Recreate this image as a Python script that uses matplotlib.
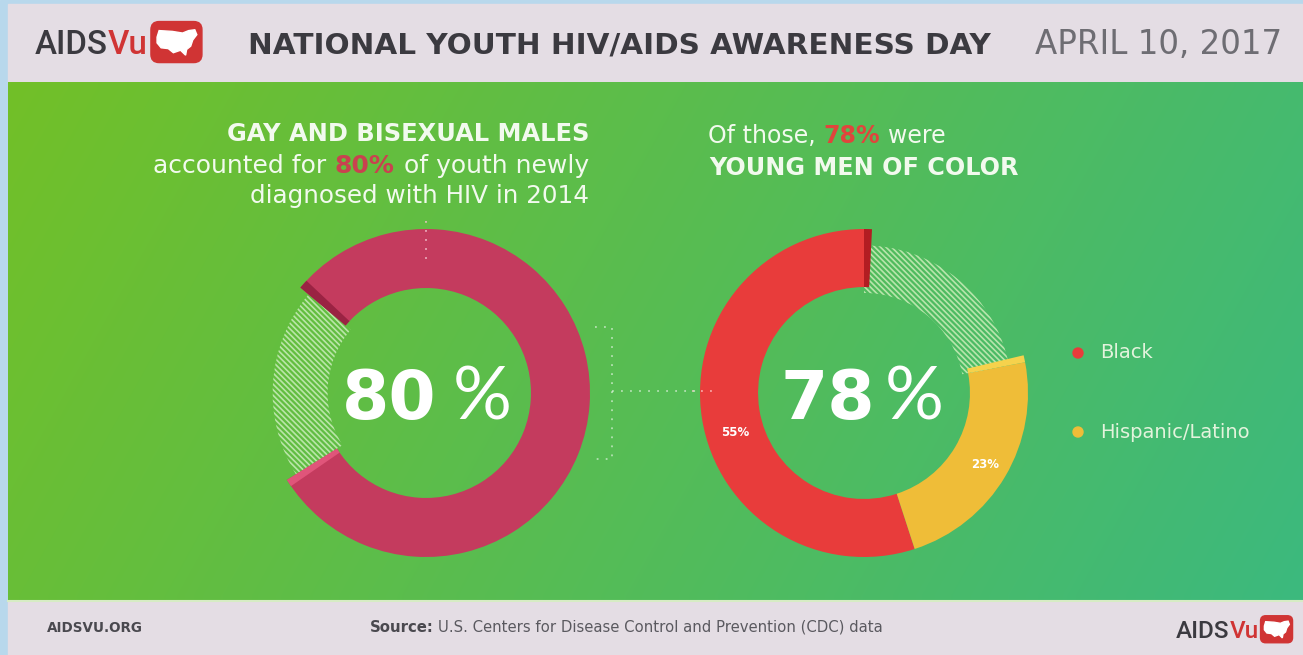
import numpy as np
import matplotlib
matplotlib.use("Agg")
import matplotlib.pyplot as plt
from matplotlib.patches import Rectangle, FancyBboxPatch, Circle, Wedge, Polygon

# ---------------- data ----------------
left_values = [80, 20]                 # gay & bisexual males vs other
left_center_label = ["80", "%"]
right_values = [55, 23, 22]            # Black, Hispanic/Latino, other
right_center_label = ["78", "%"]
right_segment_labels = ["55%", "23%"]
legend_labels = ["Black", "Hispanic/Latino"]
title_text = "NATIONAL YOUTH HIV/AIDS AWARENESS DAY"
date_text = "APRIL 10, 2017"
left_heading = "GAY AND BISEXUAL MALES"
left_line2 = ["accounted for", "80%", "of youth newly"]
left_line3 = "diagnosed with HIV in 2014"
right_line1 = ["Of those,", "78%", "were"]
right_heading = "YOUNG MEN OF COLOR"
footer_site = "AIDSVU.ORG"
footer_source = ["Source:", "U.S. Centers for Disease Control and Prevention (CDC) data"]

# ---------------- style ----------------
W, H, DPI = 1303, 655, 100
BORDER = "#b8d8ec"
BAND = "#e4dde4"
G0 = np.array([0x72, 0xc0, 0x28]) / 255
G1 = np.array([0x3c, 0xb9, 0x7e]) / 255
CRIMSON = "#c43b5e"
RED = "#e83c3b"
YELLOW = "#efbd38"
HATCH = "#c4eab4"
WHITE = "#f2faee"
DARK = "#3b3a40"
LOGO_RED = "#d03434"
plt.rcParams["hatch.linewidth"] = 1.2

fig = plt.figure(figsize=(W / DPI, H / DPI), dpi=DPI)
ax = fig.add_axes([0, 0, 1, 1])
R_ = fig.canvas.get_renderer()

# background panels
ax.add_patch(Rectangle((0, 0), W, H, color=BORDER, zorder=0))
ax.add_patch(Rectangle((8, 4), W - 8, 78, color=BAND, zorder=1))
ax.add_patch(Rectangle((8, 600), W - 8, 55, color=BAND, zorder=1))
ny, nx = 60, 240
yy, xx = np.mgrid[0:ny, 0:nx]
t = 0.82 * xx / (nx - 1) + 0.18 * yy / (ny - 1)
img = G0[None, None, :] * (1 - t[..., None]) + G1[None, None, :] * t[..., None]
ax.imshow(img, extent=(8, W, 600, 82), zorder=1, aspect="auto", interpolation="bilinear")
ax.add_line(plt.Line2D([8, W], [600.5, 600.5], color="#d6ecc4", lw=1.5, zorder=2))
ax.set_xlim(0, W)
ax.set_ylim(H, 0)
ax.axis("off")


def fit(arts, target):
    bbs = [a.get_window_extent(R_) for a in arts]
    w = max(b.x1 for b in bbs) - min(b.x0 for b in bbs)
    s = target / w
    for a in arts:
        a.set_fontsize(a.get_fontsize() * s)


def chain(pieces, x, y, ha, fs, gap, family="DejaVu Sans"):
    """pieces: list of (text, color, weight). y is baseline."""
    arts = []
    if ha == "left":
        txt, c, w = pieces[0]
        prev = ax.text(x, y, txt, color=c, fontweight=w, fontsize=fs, ha="left",
                       va="baseline", family=family, zorder=5)
        arts.append(prev)
        for txt, c, w in pieces[1:]:
            a = ax.annotate(txt, xy=(1, 0), xycoords=prev, xytext=(gap, 0),
                            textcoords="offset pixels", ha="left", va="bottom",
                            color=c, fontweight=w, fontsize=fs, family=family, zorder=5)
            arts.append(a)
            prev = a
    else:
        txt, c, w = pieces[-1]
        prev = ax.text(x, y, txt, color=c, fontweight=w, fontsize=fs, ha="right",
                       va="baseline", family=family, zorder=5)
        arts.append(prev)
        for txt, c, w in reversed(pieces[:-1]):
            a = ax.annotate(txt, xy=(0, 0), xycoords=prev, xytext=(-gap, 0),
                            textcoords="offset pixels", ha="right", va="bottom",
                            color=c, fontweight=w, fontsize=fs, family=family, zorder=5)
            arts.append(a)
            prev = a
    return arts


def logo(x, y, fs, icon_w, icon_h, width):
    arts = chain([("AIDS", DARK, "medium"), ("Vu", LOGO_RED, "medium")], x, y, "left",
                 fs, 0, family="Roboto")
    fit(arts, width)
    bb = arts[-1].get_window_extent(R_)
    x_icon = bb.x1 + 0.06 * icon_w
    yc = y - 0.36 * arts[0].get_fontsize() * DPI / 72
    ax.add_patch(FancyBboxPatch((x_icon, yc - icon_h / 2), icon_w, icon_h,
                                boxstyle="round,pad=0,rounding_size=%f" % (icon_w * 0.16),
                                color=LOGO_RED, zorder=5))
    us = [(0.12, 0.62), (0.16, 0.78), (0.42, 0.76), (0.62, 0.72), (0.74, 0.78), (0.86, 0.80),
          (0.90, 0.68), (0.82, 0.55), (0.78, 0.40), (0.70, 0.32), (0.68, 0.18), (0.58, 0.30),
          (0.44, 0.24), (0.34, 0.34), (0.20, 0.36), (0.12, 0.48)]
    pts = [(x_icon + u * icon_w, yc + icon_h / 2 - v * icon_h) for u, v in us]
    ax.add_patch(Polygon(pts, closed=True, color="white", zorder=6))


# ---------------- header ----------------
logo(35, 54, 20, 51, 41, 113)
tt = ax.text(248, 54, title_text, color=DARK, fontweight="bold", fontsize=17,
             ha="left", va="baseline", family="DejaVu Sans", zorder=5)
fit([tt], 742)
dt = ax.text(1035, 54, date_text, color="#6e6d73", fontweight="normal", fontsize=17,
             ha="left", va="baseline", family="DejaVu Sans", zorder=5)
fit([dt], 247)

# ---------------- left text block ----------------
a = ax.text(589, 141, left_heading, color=WHITE, fontweight="bold", fontsize=13,
            ha="right", va="baseline", family="DejaVu Sans", zorder=5)
fit([a], 360)
arts = chain([(left_line2[0], WHITE, "normal"), (left_line2[1], "#c9424f", "bold"),
              (left_line2[2], WHITE, "normal")], 589, 173, "right", 14, 9)
fit(arts, 443)
a = ax.text(589, 203, left_line3, color=WHITE, fontweight="normal", fontsize=14,
            ha="right", va="baseline", family="DejaVu Sans", zorder=5)
fit([a], 340)

# ---------------- right text block ----------------
arts = chain([(right_line1[0], WHITE, "normal"), (right_line1[1], "#e0453c", "bold"),
              (right_line1[2], WHITE, "normal")], 708, 143, "left", 14, 8)
fit(arts, 242)
a = ax.text(709, 175, right_heading, color=WHITE, fontweight="bold", fontsize=13,
            ha="left", va="baseline", family="DejaVu Sans", zorder=5)
fit([a], 306)

# ---------------- legend ----------------
for (lab, col, yv) in zip(legend_labels, [RED, YELLOW], [353, 432]):
    ax.add_patch(Circle((1078, yv), 5, color=col, zorder=5))
    ax.text(1100, yv, lab, color="#e3f3dc", fontsize=14, ha="left", va="center",
            family="DejaVu Sans", zorder=5)

# ---------------- dotted connectors ----------------
dk = dict(color="white", lw=1.3, ls=(0, (1, 4)), alpha=0.55, zorder=4)
ax.plot([595, 612, 612, 595], [327, 327, 459, 459], **dk)
ax.plot([612, 720], [391, 391], **dk)

# ---------------- footer ----------------
a = ax.text(47, 632, footer_site, color="#4a494f", fontweight="bold", fontsize=7.5,
            ha="left", va="baseline", family="DejaVu Sans", zorder=5)
fit([a], 96)
arts = chain([(footer_source[0], "#4a494f", "bold"), (footer_source[1], "#5a595f", "normal")],
             370, 632, "left", 7.5, 4)
fit(arts, 513)
logo(1176, 638, 14, 32, 27, 83)


# ---------------- donuts ----------------
def donut_axes(cx, cy, R):
    return fig.add_axes([(cx - R) / W, (H - cy - R) / H, 2 * R / W, 2 * R / H])


def finish(d):
    d.set_xlim(-1, 1)
    d.set_ylim(-1, 1)
    d.set_aspect("equal")
    d.axis("off")
    d.patch.set_alpha(0)


def center_label(cx, cy, parts, gap):
    big = ax.text(cx + 11, cy + 26, parts[0], color="white", fontweight="bold", fontsize=49,
                  ha="right", va="baseline", family="DejaVu Sans", zorder=5)
    ax.annotate(parts[1], xy=(1, 0), xycoords=big, xytext=(gap, 0), textcoords="offset pixels",
                ha="left", va="bottom", color="white", fontweight="normal", fontsize=53,
                family="Lato", zorder=5)


# left donut
LC, LR = (426, 393), 164
dl = donut_axes(LC[0], LC[1], LR)
wl, _ = dl.pie(left_values, radius=1, startangle=212, counterclock=True,
               colors=[CRIMSON, "none"], wedgeprops=dict(width=0.36, linewidth=0))
wh, _ = dl.pie(left_values, radius=0.935, startangle=212, counterclock=True,
               colors=["none", "none"], wedgeprops=dict(width=0.335, linewidth=0))
wh[1].set_hatch("\\\\\\\\\\\\")
wh[1].set_edgecolor(HATCH)
wh[1].set_alpha(0.9)
th1, th2 = wl[0].theta1, wl[0].theta2
dl.add_patch(Wedge((0, 0), 1, th2 - 3.2, th2, width=0.36, color="#9a2343", lw=0))
dl.add_patch(Wedge((0, 0), 1, th1, th1 + 2.6, width=0.36, color="#e0557a", lw=0))
dl.plot([0, 0], [1.05, 0.82], color="#f4c4d0", lw=1.3, ls=(0, (1, 4)), alpha=0.8, clip_on=False)
finish(dl)
center_label(LC[0], LC[1], left_center_label, 16)

# right donut
RC, RR = (864, 393), 164
dr = donut_axes(RC[0], RC[1], RR)
wr, _ = dr.pie(right_values, radius=1, startangle=90, counterclock=True,
               colors=[RED, YELLOW, "none"], wedgeprops=dict(width=0.354, linewidth=0))
whr, _ = dr.pie(right_values, radius=0.9, startangle=90, counterclock=True,
                colors=["none", "none", "none"], wedgeprops=dict(width=0.29, linewidth=0))
whr[2].set_hatch("\\\\\\\\\\\\")
whr[2].set_edgecolor(HATCH)
whr[2].set_alpha(0.9)
dr.add_patch(Wedge((0, 0), 1, wr[0].theta1 - 2.8, wr[0].theta1, width=0.354,
                   color="#b21d22", lw=0))
dr.add_patch(Wedge((0, 0), 1, wr[1].theta2, wr[1].theta2 + 2.5, width=0.354,
                   color="#f6d24c", lw=0))
dr.plot([-1.05, -0.9], [0.01, 0.01], color="#ffd0d0", lw=1.3, ls=(0, (1, 4)), alpha=0.7,
        clip_on=False)
for w_, lab, ang_off, rad in zip(wr[:2], right_segment_labels, [8, 0], [0.82, 0.86]):
    ang = np.deg2rad((w_.theta1 + w_.theta2) / 2 + ang_off)
    dr.text(rad * np.cos(ang), rad * np.sin(ang), lab, color="white", fontweight="bold",
            fontsize=8.5, ha="center", va="center", family="DejaVu Sans")
finish(dr)
center_label(RC[0], RC[1], right_center_label, 10)

fig.savefig("out.png", dpi=DPI)
